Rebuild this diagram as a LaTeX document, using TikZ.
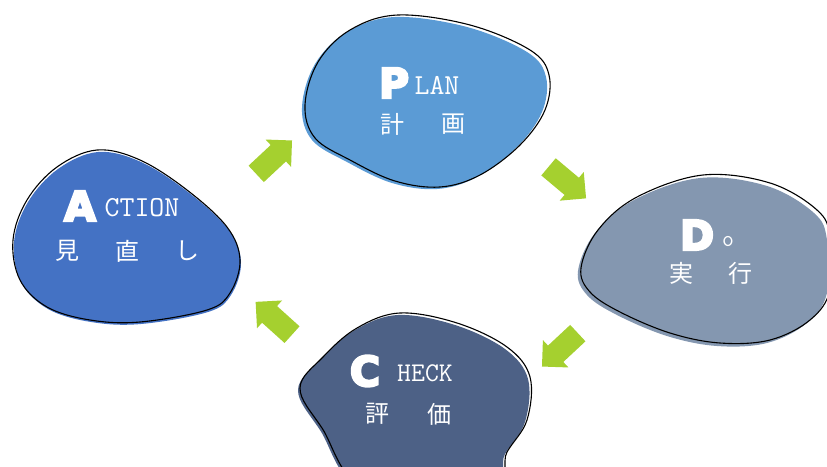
\documentclass[tikz,border=0pt]{standalone}
\usepackage{fontspec}
\usetikzlibrary{shapes.arrows}
\newfontfamily\cjk{Noto Sans CJK JP}
\newfontfamily\heavy{DejaVu Sans Bold}[FakeBold=6]
\newfontfamily\mono{Latin Modern Mono}
\definecolor{plancol}{HTML}{5B9BD5}
\definecolor{actcol}{HTML}{4472C4}
\definecolor{docol}{HTML}{8497B0}
\definecolor{checkcol}{HTML}{4D6186}
\definecolor{arrowgreen}{HTML}{A5D02F}
\tikzset{
  blobline/.style={draw=black, line width=1.1pt, line join=round},
  cyclearrow/.style={single arrow, fill=arrowgreen, draw=none,
    single arrow tip angle=90, single arrow head extend=7.5pt,
    inner xsep=0pt, inner ysep=11pt, minimum height=49pt, anchor=center},
  bigletter/.style={text=white, inner sep=0pt,
    font=\heavy\fontsize{41}{41}\selectfont},
  smallcaps/.style={text=white, inner sep=0pt,
    font=\mono\fontsize{29}{29}\selectfont},
  kanji/.style={text=white, inner sep=0pt,
    font=\cjk\fontsize{24}{24}\selectfont},
}
\begin{document}
\begin{tikzpicture}[x=1pt, y=-1pt]
\useasboundingbox[fill=white] (0,0) rectangle (827,466);

% PLAN blob
\def\planpts{(305,105) (318,62) (350,30) (398,15) (470,25) (530,50)
  (549,75) (545,110) (520,145) (480,175) (440,187) (395,181) (350,160) (315,138)}
\fill[plancol, shift={(-3,2)}] plot[smooth cycle, tension=0.6] coordinates {\planpts};
\draw[blobline] plot[smooth cycle, tension=0.6] coordinates {\planpts};

% ACTION blob
\def\actpts{(97,150) (140,160) (187,190) (227,227) (240,260) (230,293) (207,310)
  (140,322) (90,320) (47,307) (20,280) (13,240) (27,200) (57,167)}
\fill[actcol, shift={(1,2)}] plot[smooth cycle, tension=0.6] coordinates {\actpts};
\draw[blobline] plot[smooth cycle, tension=0.6] coordinates {\actpts};

% DO blob
\def\dopts{(581,268) (598,230) (637,197) (703,175) (770,183) (817,210) (830,237)
  (830,290) (810,320) (770,340) (720,343) (670,333) (620,312) (590,292)}
\fill[docol, shift={(-3,3)}] plot[smooth cycle, tension=0.6] coordinates {\dopts};
\draw[blobline] plot[smooth cycle, tension=0.6] coordinates {\dopts};

% CHECK blob
\def\checkpts{(300,388) (323,357) (357,328) (400,313) (457,323) (507,347) (530,377)
  (527,420) (507,452) (490,485) (368,490) (322,428)}
\fill[checkcol, shift={(-2,2)}] plot[smooth cycle, tension=0.6] coordinates {\checkpts};
\draw[blobline] plot[smooth cycle, tension=0.6] coordinates {\checkpts};

% cycle arrows
\node[cyclearrow, rotate=43] (toplan) at (270,161) {};
\node[cyclearrow, rotate=-40] (todo) at (563,179) {};
\node[cyclearrow, rotate=-137] (tocheck) at (564,346) {};
\node[cyclearrow, rotate=138] (toact) at (278,322) {};

% PLAN text
\node[bigletter] (pP) at (394,83) {P};
\node[smallcaps] (pLAN) at (437,85) {LAN};
\node[kanji] (pk1) at (392,124) {計};
\node[kanji] (pk2) at (453,124) {画};

% ACTION text
\node[bigletter] (aA) at (80,206) {A};
\node[smallcaps] (aCTION) at (142,208) {CTION};
\node[kanji] (ak1) at (67,251) {見};
\node[kanji] (ak2) at (127,251) {直};
\node[kanji] (ak3) at (187,251) {し};

% DO text
\node[bigletter] (dD) at (697,235) {D};
\node[text=white, inner sep=0pt, font=\mono\fontsize{23}{23}\selectfont] (dO) at (728,242) {o};
\node[kanji] (dk1) at (681,273) {実};
\node[kanji] (dk2) at (740,273) {行};

% CHECK text
\node[bigletter] (cC) at (365,371) {C};
\node[smallcaps, font=\mono\fontsize{27}{27}\selectfont] (cHECK) at (425,373) {HECK};
\node[kanji] (ck1) at (377,414) {評};
\node[kanji] (ck2) at (439,414) {価};
\end{tikzpicture}
\end{document}
